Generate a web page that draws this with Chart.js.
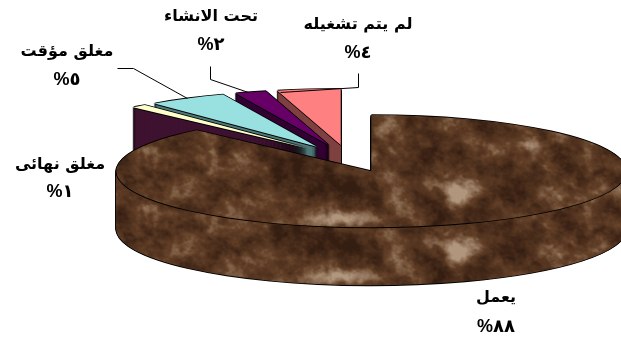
<!DOCTYPE html>
<html lang="ar">
<head>
<meta charset="utf-8">
<style>
  html, body { margin: 0; padding: 0; background: #fff; }
  canvas { display: block; }
</style>
<script src="https://cdn.jsdelivr.net/npm/chart.js@4"></script>
</head>
<body>
<canvas id="pie" width="621" height="344"></canvas>
<script>
// Plant status shares, clockwise from twelve o'clock
const categories = ['يعمل', 'مغلق نهائى', 'مغلق مؤقت', 'تحت الانشاء', 'لم يتم تشغيله'];
const shares = [88, 1, 5, 2, 4];
const shareLabels = ['٨٨%', '١%', '٥%', '٢%', '٤%'];

// Face and wall colours per slice; the first slice is textured
const faceColors = [null, '#FFFFCC', '#99E0E0', '#660066', '#FF8080'];
const wallColors = [null, '#3E1230', '#4F7878', '#330033', '#7F4040'];

// Text anchors: [x, name y, share y]
const labelAnchors = [[496, 298, 327], [60, 165, 192], [67, 52, 80], [211, 17, 45], [358, 25, 53]];
const leaderLines = [
  null, null,
  [[117, 68], [133, 68], [187, 98]],
  [[210, 66], [210, 79], [248, 92]],
  [[358, 73], [358, 87], [280, 92]]
];

// Pie projection
const RADIUS = 255, TILT = 0.22, DEPTH = 58, EXPLODE = 62;
const paintOrder = [4, 3, 2, 1, 0];

// Soft light and dark patches of the marble: [x, y, spreadX, spreadY, strength]
const marblePatches = [
  [393, 195, 8, 20, 0.42], [466, 190, 11, 8, 0.66], [452, 198, 6, 8, 0.3], [385, 178, 7, 6, 0.32],
  [345, 218, 22, 5, 0.55], [212, 160, 5, 17, 0.3], [145, 150, 8, 5, 0.28], [175, 190, 12, 6, 0.25],
  [500, 152, 7, 12, 0.3], [525, 145, 12, 4, 0.25], [588, 158, 4, 14, 0.34], [420, 125, 4, 9, 0.25],
  [350, 190, 28, 10, -0.3], [262, 182, 30, 10, -0.22], [160, 172, 16, 9, -0.2], [300, 165, 20, 8, -0.15],
  [440, 150, 26, 10, -0.12], [535, 178, 26, 10, -0.2], [430, 205, 9, 14, -0.2], [375, 185, 5, 6, -0.2]
];

function hash2(ix, iy) {
  let h = (ix * 374761393 + iy * 668265263) | 0;
  h = Math.imul(h ^ (h >>> 13), 1274126177);
  return ((h ^ (h >>> 16)) >>> 0) / 4294967295;
}
function valueNoise(x, y) {
  const ix = Math.floor(x), iy = Math.floor(y);
  let fx = x - ix, fy = y - iy;
  fx = fx * fx * (3 - 2 * fx); fy = fy * fy * (3 - 2 * fy);
  const a = hash2(ix, iy), b = hash2(ix + 1, iy), c = hash2(ix, iy + 1), d = hash2(ix + 1, iy + 1);
  return a + (b - a) * fx + (c - a) * fy + (a - b - c + d) * fx * fy;
}
// Octaves are turned against each other so the lattice does not show
function fbm(x, y, octaves) {
  let sum = 0, amp = 0.5, norm = 0;
  for (let o = 0; o < octaves; o++) {
    sum += amp * valueNoise(x, y); norm += amp;
    const nx = (x * 0.8 - y * 0.6) * 2.03 + 11.3;
    y = (x * 0.6 + y * 0.8) * 2.03 + 7.1;
    x = nx; amp *= 0.62;
  }
  return sum / norm;
}

// Brown marble sheet used by the big slice
function buildMarble() {
  const w = 621, h = 344;
  const sheet = document.createElement('canvas');
  sheet.width = w; sheet.height = h;
  const c = sheet.getContext('2d');
  const img = c.createImageData(w, h);
  const dark = [52, 29, 17], mid = [98, 63, 39], light = [176, 150, 124];
  for (let y = 0; y < h; y++) {
    for (let x = 0; x < w; x++) {
      const blotch = fbm((x * 0.8 + y * 0.6) / 24 + 3, (y * 0.8 - x * 0.6) / 19 + 9, 4);
      const grain = fbm(x / 5 + 31, y / 4 + 17, 2);
      let v = 0.42 + (blotch - 0.5) * 1.15 + (grain - 0.5) * 0.24;
      for (const [px, py, sx, sy, amt] of marblePatches) {
        const dx = (x - px) / sx, dy = (y - py) / sy;
        v += amt * Math.exp(-(dx * dx + dy * dy) / 2);
      }
      v = Math.max(0, Math.min(1, v));
      const t = v < 0.5 ? v * 2 : (v - 0.5) * 2;
      const from = v < 0.5 ? dark : mid, to = v < 0.5 ? mid : light;
      const i = (y * w + x) * 4;
      for (let k = 0; k < 3; k++) img.data[i + k] = from[k] + (to[k] - from[k]) * t;
      img.data[i + 3] = 255;
    }
  }
  c.putImageData(img, 0, 0);
  return sheet;
}

const marble = document.createElement('canvas').getContext('2d').createPattern(buildMarble(), 'repeat');

// Draws one arc element through the tilted projection, with a chosen fill
function paintArc(ctx, arc, dy, fill, nudgeX, nudgeY, marbleShift) {
  const mid = arc.startAngle + arc.circumference / 2;
  ctx.save();
  ctx.translate(nudgeX, dy + nudgeY);
  ctx.translate(0, arc.y);
  ctx.scale(1, TILT);
  ctx.translate(0, -arc.y);
  ctx.translate(Math.cos(mid) * EXPLODE, Math.sin(mid) * EXPLODE);
  if (fill === marble) {
    marble.setTransform(ctx.getTransform().inverse().translate(0, marbleShift));
  }
  const face = Object.create(arc);
  face.options = Object.assign({}, arc.options, { backgroundColor: fill, borderWidth: 0 });
  face.draw(ctx);
  ctx.restore();
}

const OUTLINE = [[-0.9, 0], [0.9, 0], [0, -0.9], [0, 0.9]];

const tiltedPie = {
  id: 'tiltedPie',
  beforeDatasetsDraw(chart) {
    const ctx = chart.ctx;
    const arcs = chart.getDatasetMeta(0).data;
    for (const index of paintOrder) {
      const arc = arcs[index];
      const wall = index === 0 ? marble : wallColors[index];
      const top = index === 0 ? marble : faceColors[index];
      for (let dy = DEPTH; dy >= 1; dy -= 1) {
        for (const [nx, ny] of OUTLINE) paintArc(ctx, arc, dy, '#000', nx, ny, 0);
      }
      for (let dy = DEPTH; dy >= 1; dy -= 1) paintArc(ctx, arc, dy, wall, 0, 0, DEPTH);
      for (const [nx, ny] of OUTLINE) paintArc(ctx, arc, 0, '#000', nx, ny, 0);
      paintArc(ctx, arc, 0, top, 0, 0, 0);
    }
    return false;
  },
  afterDraw(chart) {
    const ctx = chart.ctx;
    ctx.save();
    ctx.strokeStyle = '#000';
    ctx.lineWidth = 1;
    for (const line of leaderLines) {
      if (!line) continue;
      ctx.beginPath();
      line.forEach(([x, y], i) => i ? ctx.lineTo(x + 0.5, y + 0.5) : ctx.moveTo(x + 0.5, y + 0.5));
      ctx.stroke();
    }
    ctx.fillStyle = '#000';
    ctx.direction = 'rtl';
    ctx.textAlign = 'center';
    ctx.textBaseline = 'middle';
    categories.forEach((name, i) => {
      const [x, yName, yShare] = labelAnchors[i];
      ctx.font = 'bold 16px "DejaVu Sans"';
      ctx.fillText(name, x, yName);
      ctx.font = 'bold 18px "Liberation Sans", "DejaVu Sans"';
      ctx.fillText(shareLabels[i], x, yShare);
    });
    ctx.restore();
  }
};

new Chart(document.getElementById('pie'), {
  type: 'pie',
  data: {
    labels: categories,
    datasets: [{
      data: shares,
      backgroundColor: faceColors.map(c => c || marble),
      borderWidth: 0,
      radius: RADIUS
    }]
  },
  options: {
    responsive: false,
    animation: false,
    layout: { padding: { left: 76, bottom: 27 } },
    plugins: { legend: { display: false }, tooltip: { enabled: false } }
  },
  plugins: [tiltedPie]
});
</script>
</body>
</html>
